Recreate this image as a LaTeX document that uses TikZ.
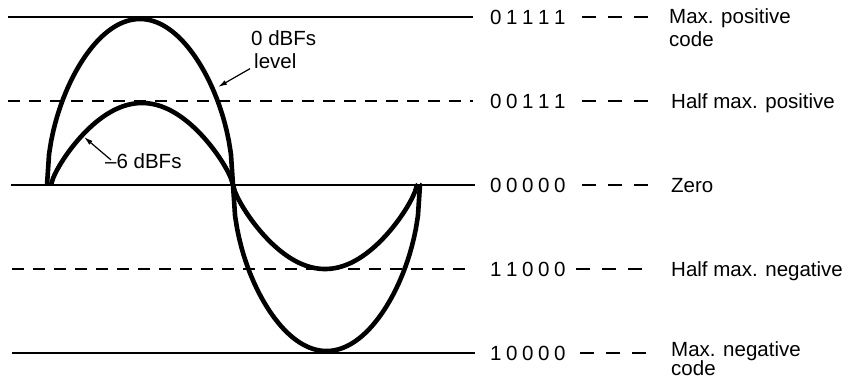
\documentclass[tikz,border=0pt]{standalone}
\usepackage{fontspec}
\setmainfont{Liberation Sans}
\usetikzlibrary{arrows.meta}
\newcommand{\dg}{\kern4.6pt}
\begin{document}
\begin{tikzpicture}[x=1pt,y=-1pt,
  levelline/.style={line width=1.4pt},
  halfline/.style={line width=1.4pt, dash pattern=on 12pt off 9pt},
  tailline/.style={line width=1.4pt, dash pattern=on 14pt off 12pt},
  wave/.style={line width=4.6pt, line join=round, line cap=butt},
  codetext/.style={anchor=base west, inner sep=0pt, font=\fontsize{20.5}{23}\selectfont},
  labtext/.style={anchor=base west, inner sep=0pt, font=\fontsize{20.5}{23}\selectfont},
  pointer/.style={line width=1.2pt, -{Latex[length=9pt,width=5pt]}}
]
\useasboundingbox (0,0) rectangle (849,380);

% level lines
\coordinate (a1) at (8,17);   \coordinate (b1) at (473,17);
\coordinate (a2) at (8,101);  \coordinate (b2) at (473,101);
\coordinate (a3) at (11,185); \coordinate (b3) at (475,185);
\coordinate (a4) at (12,269); \coordinate (b4) at (473,269);
\coordinate (a5) at (12,353); \coordinate (b5) at (475,353);
\draw[levelline] (a1) -- (b1);
\draw[halfline]  (a2) -- (b2);
\draw[levelline] (a3) -- (b3);
\draw[halfline]  (a4) -- (b4);
\draw[levelline] (a5) -- (b5);

% codes
\node[codetext] (c1) at (490,24.5)  {0\dg1\dg1\dg1\dg1};
\node[codetext] (c2) at (490,108.5) {0\dg0\dg1\dg1\dg1};
\node[codetext] (c3) at (490,192.5) {0\dg0\dg0\dg0\dg0};
\node[codetext] (c4) at (490,276.5) {1\dg1\dg0\dg0\dg0};
\node[codetext] (c5) at (490,360.5) {1\dg0\dg0\dg0\dg0};

% tails
\coordinate (s1) at (582,17);  \coordinate (e1) at (648,17);
\coordinate (s2) at (582,101); \coordinate (e2) at (648,101);
\coordinate (s3) at (582,185); \coordinate (e3) at (648,185);
\coordinate (s4) at (576,269); \coordinate (e4) at (648,269);
\coordinate (s5) at (580,353); \coordinate (e5) at (650,353);
\draw[tailline] (s1) -- (e1);
\draw[tailline] (s2) -- (e2);
\draw[tailline] (s3) -- (e3);
\draw[tailline] (s4) -- (e4);
\draw[tailline] (s5) -- (e5);

% labels
\node[labtext] (l1)  at (669,23.5)  {Max. positive};
\node[labtext] (l1b) at (669,46)  {code};
\node[labtext] (l2)  at (671,108) {Half max. positive};
\node[labtext] (l3)  at (671,192) {Zero};
\node[labtext] (l4)  at (671,276) {Half max. negative};
\node[labtext] (l5)  at (671,356) {Max. negative};
\node[labtext] (l5b) at (671,375.5) {code};

% waveforms
\coordinate (f0) at (47,185);
\coordinate (f1) at (233,185);
\coordinate (f2) at (420,185);
\draw[wave] (f0)
  -- plot[domain=0:180, samples=91] ({47+\x*1.03333}, {185-166*sqrt(abs(sin(\x)))})
  -- (f1)
  -- plot[domain=0:180, samples=91] ({233+\x*1.03889}, {185+166*sqrt(abs(sin(\x)))})
  -- (f2);

\coordinate (h0) at (51,185);
\coordinate (h2) at (417,185);
\draw[wave] (h0)
  -- plot[domain=0:180, samples=91] ({51+\x*1.01111}, {185-82*sqrt(abs(sin(\x)))*sqrt(sqrt(abs(sin(\x))))})
  -- (f1)
  -- plot[domain=0:180, samples=91] ({233+\x*1.02222}, {185+84*sqrt(abs(sin(\x)))*sqrt(sqrt(abs(sin(\x))))})
  -- (h2);

% annotations
\node[labtext] (n0a) at (251,45) {0 dBFs};
\node[labtext] (n0b) at (254,68) {level};
\coordinate (p0) at (218,87);
\draw[pointer] ([xshift=-4pt,yshift=-8pt]n0b.west) -- (p0);

\node[labtext] (n6) at (105,168) {–6 dBFs};
\coordinate (p6) at (84,137);
\draw[pointer] ([xshift=6pt,yshift=-7pt]n6.north west) -- (p6);
\end{tikzpicture}
\end{document}
